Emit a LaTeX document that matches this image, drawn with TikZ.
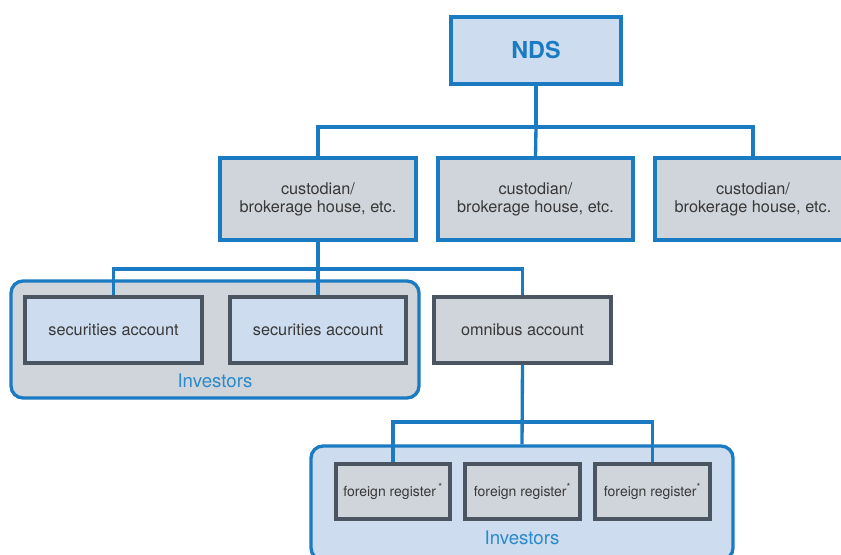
\documentclass[tikz,border=0pt]{standalone}
\usepackage{fontspec}
\setmainfont{TeX Gyre Heros}
\usepackage{tikz}
\usetikzlibrary{positioning,backgrounds}
\definecolor{ndsblue}{HTML}{1A7AC2}
\definecolor{invblue}{HTML}{2A8ACB}
\definecolor{paleblue}{HTML}{CDDCEE}
\definecolor{palegray}{HTML}{D0D5DB}
\definecolor{slate}{HTML}{4A5561}
\definecolor{txtgray}{HTML}{383838}
\tikzset{
  dims/.style 2 args={minimum width=#1*0.75pt,minimum height=#2*0.75pt},
  box/.style  ={draw,rectangle,align=center,inner sep=2pt,line width=2.5pt,
                text=txtgray,font=\fontsize{12.2}{13.5}\selectfont},
  top/.style  ={box,fill=paleblue,draw=ndsblue,text=ndsblue,
                font=\fontsize{17.5}{20}\selectfont\bfseries},
  cust/.style ={box,fill=palegray,draw=ndsblue},
  acct/.style ={box,fill=paleblue,draw=slate},
  omni/.style ={box,fill=palegray,draw=slate},
  freg/.style ={box,fill=palegray,draw=slate,font=\fontsize{10.5}{12}\selectfont},
  grp/.style  ={draw=ndsblue,rectangle,rounded corners=9pt,line width=2.5pt},
  invtxt/.style={text=invblue,font=\fontsize{14}{16}\selectfont},
  link/.style ={draw=ndsblue,line width=2.5pt},
}
\begin{document}
\begin{tikzpicture}[x=0.75pt,y=-0.75pt]
\useasboundingbox (0,0) rectangle (841,555);
\node[top,dims={170}{67}] (nds) at (536,50.5) {NDS};
\node[cust,dims={196}{82}] (cust1) at (318,199) {custodian/\\brokerage house, etc.};
\node[cust,dims={195}{82}] (cust2) at (535.5,199) {custodian/\\brokerage house, etc.};
\node[cust,dims={196}{82}] (cust3) at (753,199) {custodian/\\brokerage house, etc.};
% investor groups
\node[grp,fill=palegray,dims={408}{117}] (grpa) at (215,339.5) {};
\node[grp,fill=paleblue,dims={422}{114}] (grpb) at (522,503) {};
\node[acct,dims={177}{66}] (seca) at (113.5,330) {securities account};
\node[acct,dims={176}{66}] (secb) at (318,330) {securities account};
\node[omni,dims={177}{66}] (omnib) at (522.5,330) {omnibus account};
\node[invtxt] (inva) at (215,381) {Investors};
\node[freg,dims={114}{55}] (frega) at (393,491.5) {foreign register\,\textsuperscript{*}};
\node[freg,dims={115}{55}] (fregb) at (522.5,491.5) {foreign register\textsuperscript{*}};
\node[freg,dims={115}{55}] (fregc) at (652.5,491.5) {foreign register\textsuperscript{*}};
\node[invtxt] (invb) at (522,538) {Investors};
\coordinate (busa) at (536,127);
\coordinate (busb) at (318,269);
\coordinate (busc) at (522,422);
\draw[link] (nds.south) -- (busa);
\draw[link] (cust1.north) |- (busa) -| (cust3.north);
\draw[link] (busa) -- (cust2.north);
\draw[link] (cust1.south) -- (secb.north);
\draw[link] (seca.north) |- (busb) -| (omnib.north);
\draw[link] (omnib.south) -- (grpb.north);
\draw[link] (frega.north) |- (busc) -| (fregc.north);
\end{tikzpicture}
\end{document}
